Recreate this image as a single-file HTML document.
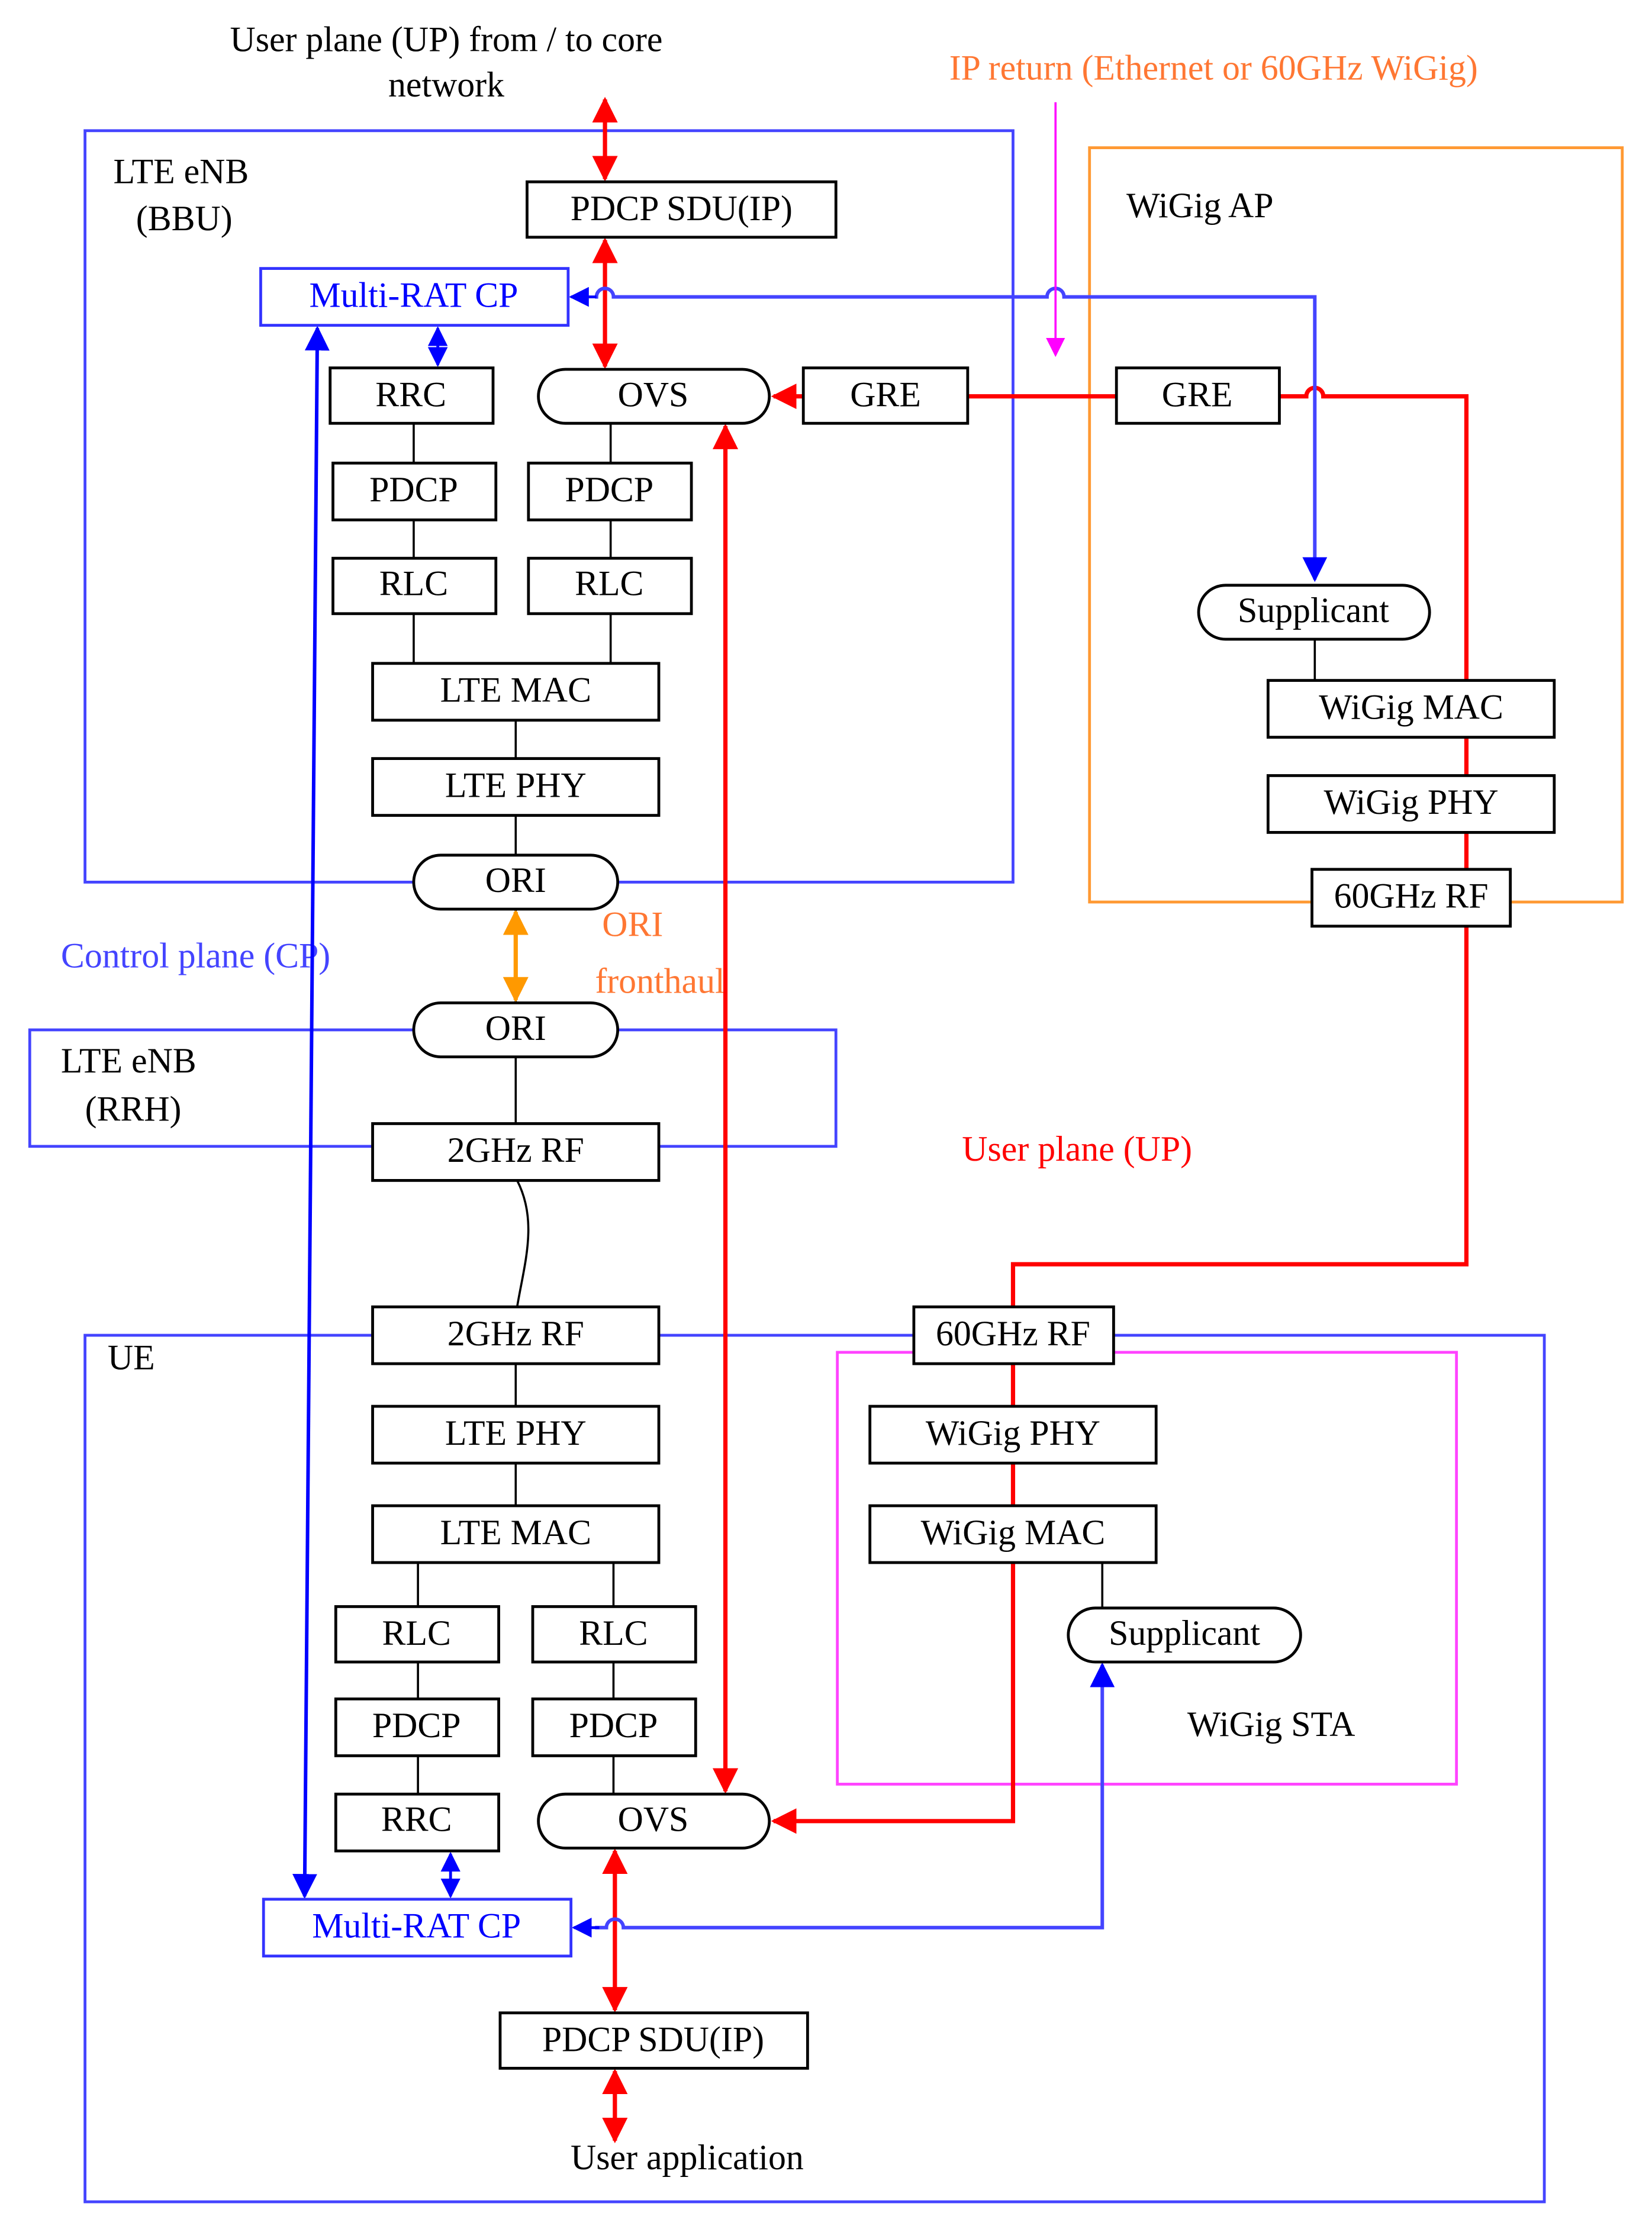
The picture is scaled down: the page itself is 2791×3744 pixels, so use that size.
<!DOCTYPE html>
<html><head><meta charset="utf-8"><style>
html,body{margin:0;padding:0;background:#fff;}
svg{display:block;}
text{font-family:"Liberation Serif",serif;font-size:25px;}
</style></head><body>
<svg width="2791" height="3744" viewBox="0 0 1166 1560" preserveAspectRatio="none" xmlns="http://www.w3.org/2000/svg">
<defs>
<marker id="ar" viewBox="0 0 10 10" refX="9" refY="5" markerWidth="6" markerHeight="6" orient="auto-start-reverse"><path d="M0,0L10,5L0,10z" fill="#f00"/></marker>
<marker id="ab" viewBox="0 0 10 10" refX="9" refY="5" markerWidth="7" markerHeight="7" orient="auto-start-reverse"><path d="M0,0L10,5L0,10z" fill="#00f"/></marker>
<marker id="ao" viewBox="0 0 10 10" refX="9" refY="5" markerWidth="6" markerHeight="6" orient="auto-start-reverse"><path d="M0,0L10,5L0,10z" fill="#f90"/></marker>
<marker id="am" viewBox="0 0 10 10" refX="9" refY="5" markerWidth="9" markerHeight="9" orient="auto"><path d="M0,0L10,5L0,10z" fill="#f0f"/></marker>
</defs>
<rect width="1166" height="1560" fill="#fff"/>
<rect x="60" y="92" width="655" height="529" fill="none" stroke="#44f" stroke-width="2"/>
<rect x="769" y="104" width="376" height="531" fill="none" stroke="#f93" stroke-width="2"/>
<rect x="21" y="725" width="569" height="82" fill="none" stroke="#44f" stroke-width="2"/>
<rect x="60" y="940" width="1030" height="610" fill="none" stroke="#44f" stroke-width="2"/>
<rect x="591" y="952" width="437" height="304" fill="none" stroke="#f4f" stroke-width="2"/>
<text x="315" y="36" text-anchor="middle">User plane (UP) from / to core</text>
<text x="315" y="68" text-anchor="middle">network</text>
<text x="670" y="56" fill="#f73">IP return (Ethernet or 60GHz WiGig)</text>
<text x="80" y="129">LTE eNB</text><text x="96" y="162">(BBU)</text>
<text x="795" y="153">WiGig AP</text>
<text x="43" y="681" fill="#44f">Control plane (CP)</text>
<text x="425" y="659" fill="#f73">ORI</text><text x="420" y="699" fill="#f73">fronthaul</text>
<text x="43" y="755">LTE eNB</text><text x="60" y="789">(RRH)</text>
<text x="679" y="817" fill="#f00">User plane (UP)</text>
<text x="76" y="964">UE</text>
<text x="838" y="1222">WiGig STA</text>
<text x="485" y="1527" text-anchor="middle">User application</text>
<g stroke="#000" stroke-width="1.5" fill="none">
<line x1="292" y1="298" x2="292" y2="467"/><line x1="431" y1="298" x2="431" y2="467"/>
<line x1="364" y1="507" x2="364" y2="791"/>
<path d="M365,831 C380,860 370,890 365,920"/>
<line x1="364" y1="960" x2="364" y2="1060"/>
<line x1="295" y1="1100" x2="295" y2="1263"/><line x1="433" y1="1100" x2="433" y2="1263"/>
<line x1="928" y1="450" x2="928" y2="479"/>
<line x1="778" y1="1100" x2="778" y2="1132"/>
</g>
<g stroke="#f00" stroke-width="3" fill="none">
<line x1="427" y1="70" x2="427" y2="126" marker-start="url(#ar)" marker-end="url(#ar)"/>
<line x1="427" y1="169" x2="427" y2="258" marker-start="url(#ar)" marker-end="url(#ar)"/>
<line x1="567" y1="279" x2="546" y2="279" marker-end="url(#ar)"/>
<line x1="683" y1="279" x2="788" y2="279"/>
<path d="M903,279 H922 a6,6 0 0 1 12,0 H1035 V890 H715 V920"/>
<line x1="715" y1="960" x2="715" y2="990"/><line x1="715" y1="1030" x2="715" y2="1060"/>
<path d="M715,1100 V1282 H546" marker-end="url(#ar)"/>
<line x1="512" y1="300" x2="512" y2="1261" marker-start="url(#ar)" marker-end="url(#ar)"/>
<line x1="434" y1="1303" x2="434" y2="1415" marker-start="url(#ar)" marker-end="url(#ar)"/>
<line x1="434" y1="1458" x2="434" y2="1507" marker-start="url(#ar)" marker-end="url(#ar)"/>
</g>
<g stroke="#44f" stroke-width="2" fill="none">
<line x1="224" y1="231" x2="215" y2="1335" stroke="#00f" stroke-width="2.5" marker-start="url(#ab)" marker-end="url(#ab)"/>
<line x1="309" y1="231" x2="309" y2="257" stroke="#00f" marker-start="url(#ab)" marker-end="url(#ab)"/>
<line x1="318" y1="1305" x2="318" y2="1335" stroke="#00f" marker-start="url(#ab)" marker-end="url(#ab)"/>
<path d="M420,209 H421 a6,6 0 0 1 12,0 H739 a6,6 0 0 1 12,0 H928 V408" marker-end="url(#ab)" stroke-width="2.5"/>
<path d="M420,1357 H428 a6,6 0 0 1 12,0 H778 V1172" marker-end="url(#ab)" stroke-width="2.5"/>
<path d="M421,209 L403,209" stroke="#00f" marker-end="url(#ab)"/>
<path d="M423,1357 L405,1357" stroke="#00f" marker-end="url(#ab)"/>
</g>
<line x1="364" y1="642" x2="364" y2="704" stroke="#f90" stroke-width="3" marker-start="url(#ao)" marker-end="url(#ao)"/>
<line x1="745" y1="72" x2="745" y2="250" stroke="#f0f" stroke-width="1.5" marker-end="url(#am)"/>
<g fill="#fff" stroke="#000" stroke-width="2">
<rect x="372" y="128" width="218" height="39"/>
<rect x="233" y="259" width="115" height="39"/>
<rect x="380" y="260" width="163" height="38" rx="19"/>
<rect x="567" y="259" width="116" height="39"/>
<rect x="235" y="326" width="115" height="40"/><rect x="373" y="326" width="115" height="40"/>
<rect x="235" y="393" width="115" height="39"/><rect x="373" y="393" width="115" height="39"/>
<rect x="263" y="467" width="202" height="40"/><rect x="263" y="534" width="202" height="40"/>
<rect x="292" y="602" width="144" height="38" rx="19"/>
<rect x="788" y="259" width="115" height="39"/>
<rect x="846" y="412" width="163" height="38" rx="19"/>
<rect x="895" y="479" width="202" height="40"/><rect x="895" y="546" width="202" height="40"/>
<rect x="926" y="612" width="140" height="40"/>
<rect x="292" y="706" width="144" height="38" rx="19"/>
<rect x="263" y="791" width="202" height="40"/>
<rect x="263" y="920" width="202" height="40"/>
<rect x="645" y="920" width="141" height="40"/>
<rect x="263" y="990" width="202" height="40"/><rect x="263" y="1060" width="202" height="40"/>
<rect x="614" y="990" width="202" height="40"/><rect x="614" y="1060" width="202" height="40"/>
<rect x="754" y="1132" width="164" height="38" rx="19"/>
<rect x="237" y="1131" width="115" height="39"/><rect x="376" y="1131" width="115" height="39"/>
<rect x="237" y="1196" width="115" height="40"/><rect x="376" y="1196" width="115" height="40"/>
<rect x="237" y="1263" width="115" height="40"/>
<rect x="380" y="1263" width="163" height="38" rx="19"/>
<rect x="353" y="1417" width="217" height="39"/>
</g>
<g fill="#fff" stroke="#33f" stroke-width="2">
<rect x="184" y="189" width="217" height="40"/>
<rect x="186" y="1337" width="217" height="40"/>
</g>
<g text-anchor="middle">
<text x="481" y="155">PDCP SDU(IP)</text>
<text x="292" y="216" fill="#00f">Multi-RAT CP</text>
<text x="290" y="286">RRC</text><text x="461" y="286">OVS</text><text x="625" y="286">GRE</text>
<text x="292" y="353">PDCP</text><text x="430" y="353">PDCP</text>
<text x="292" y="419">RLC</text><text x="430" y="419">RLC</text>
<text x="364" y="494">LTE MAC</text><text x="364" y="561">LTE PHY</text>
<text x="364" y="628">ORI</text>
<text x="845" y="286">GRE</text>
<text x="927" y="438">Supplicant</text>
<text x="996" y="506">WiGig MAC</text><text x="996" y="573">WiGig PHY</text>
<text x="996" y="639">60GHz RF</text>
<text x="364" y="732">ORI</text>
<text x="364" y="818">2GHz RF</text>
<text x="364" y="947">2GHz RF</text><text x="715" y="947">60GHz RF</text>
<text x="364" y="1017">LTE PHY</text><text x="364" y="1087">LTE MAC</text>
<text x="715" y="1017">WiGig PHY</text><text x="715" y="1087">WiGig MAC</text>
<text x="836" y="1158">Supplicant</text>
<text x="294" y="1158">RLC</text><text x="433" y="1158">RLC</text>
<text x="294" y="1223">PDCP</text><text x="433" y="1223">PDCP</text>
<text x="294" y="1289">RRC</text><text x="461" y="1289">OVS</text>
<text x="294" y="1364" fill="#00f">Multi-RAT CP</text>
<text x="461" y="1444">PDCP SDU(IP)</text>
</g>
</svg>
</body></html>
